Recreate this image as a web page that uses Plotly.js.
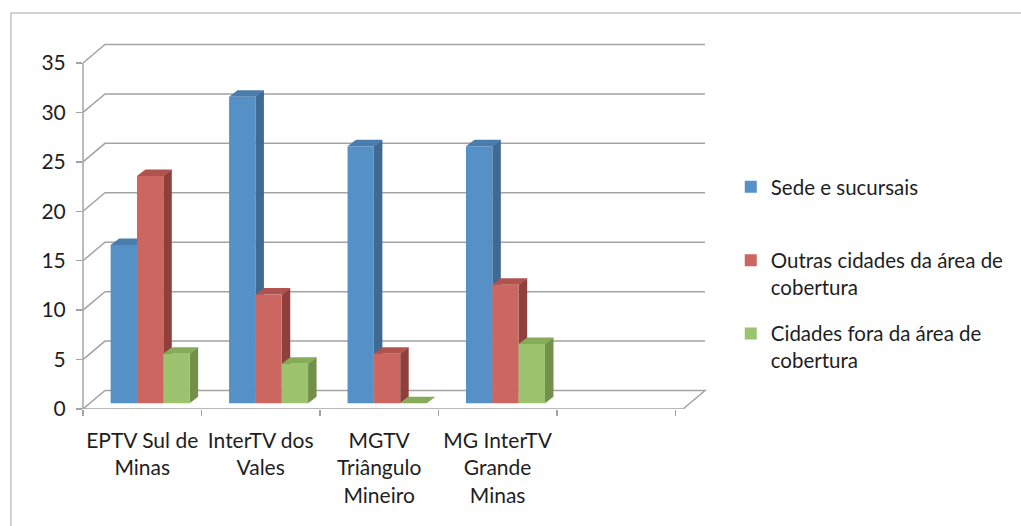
<!DOCTYPE html>
<html>
<head>
<meta charset="utf-8">
<script src="https://cdn.plot.ly/plotly-3.0.1.min.js"></script>
<style>
  html, body { margin: 0; padding: 0; background: #ffffff; }
  #chart { width: 1021px; height: 526px; }
</style>
</head>
<body>
<div id="chart"></div>
<script>
// ---- data ----
const categories = ['EPTV Sul de<br>Minas', 'InterTV dos<br>Vales', 'MGTV<br>Triângulo<br>Mineiro', 'MG InterTV<br>Grande<br>Minas'];
const seriesNames = ['Sede e sucursais<br> ', 'Outras cidades da área de<br>cobertura', 'Cidades fora da área de<br>cobertura'];
const sede = [16, 31, 26, 26];
const outras = [23, 11, 5, 12];
const fora = [5, 4, 0, 6];
const yTickVals = [0, 5, 10, 15, 20, 25, 30, 35];
const emptySlots = 1; // extra empty category slot at the right

// ---- style ----
const frontColors = ['#5591C7', '#CC6661', '#9DC36F'];
const sideColors = ['#3E6A93', '#8F403D', '#72904A'];
const topColors = ['#4A7DAE', '#B0534F', '#86AC59'];
const gridColor = '#A3A3A3';
const FONT = 'Lato, "Open Sans", sans-serif';
const TXT = '#1E1E1E';

const W = 1021, H = 526;
const M = { l: 83, r: 316, t: 40, b: 117 };
const plotW = W - M.l - M.r, plotH = H - M.t - M.b;
const catPx = 120;                 // width of one category slot
const nSlots = categories.length + emptySlots;
const depthX = 22, depthY = 18.5;  // wall depth
const xRange = [-0.5, nSlots - 0.5 + depthX / catPx];
const pxPerUnit = 9.886;
const yRange = [0, plotH / pxPerUnit];
const barLift = 5.7 / pxPerUnit;   // bars stand slightly behind the front edge
const y2Range = [yRange[0] - barLift, yRange[1] - barLift];

const barW = 0.2222;
const offsets = [-0.2667, -0.0444, 0.1778];
const bdx = 8.5, bdy = 6.5;        // bar depth
const series = [sede, outras, fora];
const xs = categories.map((_, i) => i);

const traces = series.map((vals, s) => ({
  type: 'bar',
  name: seriesNames[s],
  x: xs,
  y: vals,
  xaxis: 'x',
  yaxis: 'y2',
  width: barW,
  offset: offsets[s],
  marker: { color: frontColors[s], line: { width: 0 } },
  legendgroup: 'g' + s,
  hoverinfo: 'x+y+name'
}));

const shapes = [];
// chart border
shapes.push({
  type: 'rect', xref: 'paper', yref: 'paper',
  x0: (10 - M.l) / plotW, x1: (W + 20 - M.l) / plotW,
  y0: (M.t + plotH - (H + 20)) / plotH, y1: (M.t + plotH - 13) / plotH,
  line: { color: '#C4C4C4', width: 1.5 }, layer: 'below'
});
// back wall gridlines with left side diagonals
const frontLen = nSlots * catPx;
yTickVals.forEach(v => {
  const path = v === 0
    ? `M0,0 L${frontLen},0 L${frontLen + depthX},${depthY} L${depthX},${depthY} Z`
    : `M0,0 L${depthX},${depthY} L${frontLen + depthX},${depthY}`;
  shapes.push({
    type: 'path', xref: 'paper', yref: 'y',
    xsizemode: 'pixel', ysizemode: 'pixel', xanchor: 0, yanchor: v,
    path: path, line: { color: gridColor, width: 1.5 }, layer: 'below'
  });
});
// front vertical axis line
shapes.push({
  type: 'line', xref: 'paper', yref: 'y', x0: 0, x1: 0,
  y0: 0, y1: yTickVals[yTickVals.length - 1],
  line: { color: gridColor, width: 1.5 }, layer: 'below'
});
// 3D faces of bars (side + top), derived from the data; drawn below the
// front faces so that each neighbouring bar hides the side behind it
const wPx = barW * catPx;
xs.forEach(i => {
  series.forEach((vals, s) => {
    const v = vals[i];
    const hPx = v * pxPerUnit;
    if (v > 0) {
      shapes.push({
        type: 'path', xref: 'x', yref: 'y2',
        xsizemode: 'pixel', ysizemode: 'pixel',
        xanchor: i + offsets[s] + barW, yanchor: v,
        path: `M0,0 L${bdx},${bdy} L${bdx},${bdy - hPx} L0,${-hPx} Z`,
        fillcolor: sideColors[s], line: { width: 0 }, layer: 'below'
      });
    }
    shapes.push({
      type: 'path', xref: 'x', yref: 'y2',
      xsizemode: 'pixel', ysizemode: 'pixel',
      xanchor: i + offsets[s], yanchor: v,
      path: `M0,0 L${bdx},${bdy} L${wPx + bdx},${bdy} L${wPx},0 Z`,
      fillcolor: topColors[s], line: { width: 0 }, layer: 'below'
    });
  });
});

const boundaries = [];
for (let k = 0; k <= nSlots; k++) boundaries.push(k - 0.5);

const layout = {
  width: W, height: H,
  margin: M,
  paper_bgcolor: '#ffffff',
  plot_bgcolor: 'rgba(0,0,0,0)',
  font: { family: FONT, size: 21, color: TXT },
  showlegend: true,
  barmode: 'overlay',
  xaxis: {
    range: xRange,
    tickvals: xs,
    ticktext: categories,
    ticks: '',
    showgrid: false, zeroline: false, showline: false,
    tickfont: { family: FONT, size: 21, color: TXT },
    ticklabelstandoff: 17,
    minor: { tickvals: boundaries, ticks: 'outside', ticklen: 6, tickcolor: gridColor, tickwidth: 1.5, showgrid: false },
    fixedrange: true
  },
  yaxis: {
    range: yRange,
    tickvals: yTickVals,
    ticks: 'outside', ticklen: 6, tickcolor: gridColor, tickwidth: 1.5,
    showgrid: false, zeroline: false, showline: false,
    tickfont: { family: FONT, size: 21, color: TXT },
    ticklabelstandoff: 6,
    fixedrange: true
  },
  yaxis2: {
    range: y2Range,
    overlaying: 'y',
    visible: false,
    fixedrange: true
  },
  legend: {
    x: 1.055, xanchor: 'left',
    y: (M.t + plotH - 167) / plotH, yanchor: 'top',
    font: { family: FONT, size: 20.5, color: TXT },
    valign: 'top',
    traceorder: 'grouped',
    tracegroupgap: 17,
    bgcolor: 'rgba(0,0,0,0)'
  },
  shapes: shapes
};

Plotly.newPlot('chart', traces, layout, { displayModeBar: false, staticPlot: true });
</script>
</body>
</html>
